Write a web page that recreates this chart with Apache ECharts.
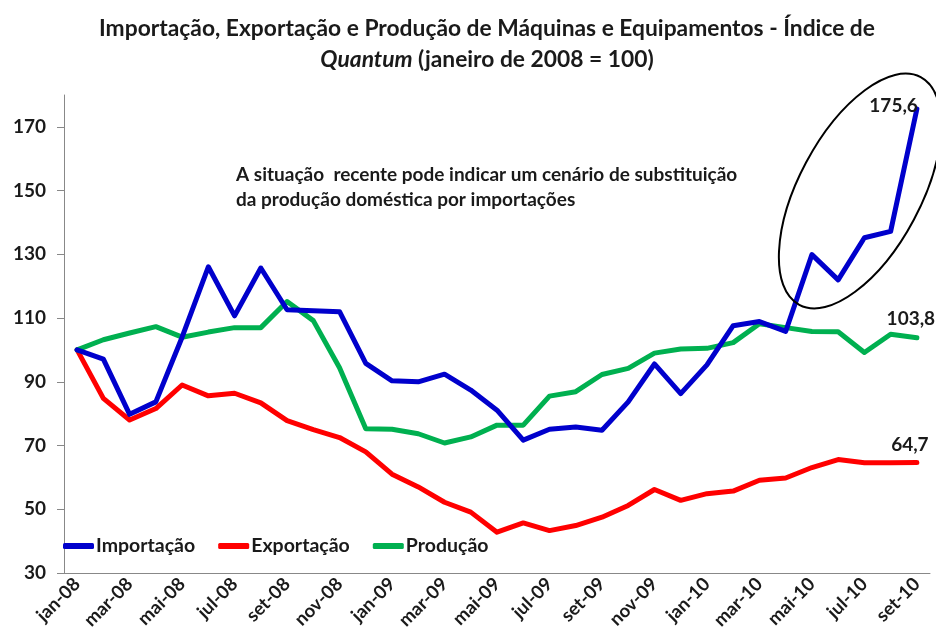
<!DOCTYPE html>
<html><head><meta charset="utf-8">
<script src="https://cdn.jsdelivr.net/npm/echarts@6/dist/echarts.min.js"></script>
<style>html,body{margin:0;padding:0;background:#fff}#c{width:936px;height:644px}</style>
</head><body><div id="c"></div>
<script>
const categories = ['jan-08','fev-08','mar-08','abr-08','mai-08','jun-08','jul-08','ago-08','set-08','out-08','nov-08','dez-08',
  'jan-09','fev-09','mar-09','abr-09','mai-09','jun-09','jul-09','ago-09','set-09','out-09','nov-09','dez-09',
  'jan-10','fev-10','mar-10','abr-10','mai-10','jun-10','jul-10','ago-10','set-10'];
const importacao = [100,97.1,79.8,83.7,104,126.1,110.7,125.7,112.6,112.3,112,95.8,
  90.3,90,92.4,87.4,81.1,71.7,75.1,75.8,74.8,83.7,95.6,86.3,
  95.3,107.6,108.9,105.8,129.9,122,135.2,137.2,175.6];
const exportacao = [100,84.8,78,81.6,89,85.6,86.4,83.4,77.8,75,72.5,68,
  61,57,52.2,49.1,42.8,45.7,43.3,44.9,47.5,51.2,56.2,52.8,
  54.9,55.7,59.1,59.8,63.1,65.6,64.6,64.6,64.7];
const producao = [100,103.2,105.3,107.3,104,105.6,107,107,115.2,109.2,94.4,75.3,
  75.1,73.7,70.8,72.7,76.4,76.4,85.5,86.9,92.3,94.2,99,100.3,
  100.5,102.3,108.2,107,105.8,105.7,99.2,104.9,103.8];
const yTicks = [30,50,70,90,110,130,150,170];
const seriesNames = ['Importação','Exportação','Produção'];
const colors = ['#0000CC','#FF0000','#00B050'];

const FONT = 'Lato';
const chart = echarts.init(document.getElementById('c'), null, {renderer:'canvas'});
const fmt = v => String(v).replace('.', ',');
function mk(name, data, color, endOff, align) {
  return {
    name, type:'line', data, showSymbol:false, symbol:'none',
    lineStyle:{color, width:5, cap:'round', join:'round'}, itemStyle:{color},
    z: name==='Importação'?3:2,
    endLabel:{show:true, formatter:p=>fmt(p.value), fontFamily:FONT, fontWeight:'bold', fontSize:19,
      color:'#1a1a1a', align:align, offset:endOff}
  };
}
chart.setOption({
  animation:false,
  textStyle:{fontFamily:FONT},
  title:{
    left:482, top:8,
    text:'{b|Importação, Exportação e Produção de Máquinas e Equipamentos - Índice de}\n{i|Quantum}{b| (janeiro de 2008 = 100)}',
    textAlign:'center',
    textStyle:{align:'center', rich:{
      b:{fontFamily:FONT, fontWeight:'bold', fontSize:22.8, color:'#1a1a1a', lineHeight:31, align:'center'},
      i:{fontFamily:FONT, fontWeight:'bold', fontStyle:'italic', fontSize:22.8, color:'#1a1a1a', lineHeight:31, align:'center'}
    }}
  },
  grid:{left:64, right:6, top:95, bottom:71, containLabel:false},
  legend:{
    left:58, top:531, itemWidth:31, itemHeight:6, itemGap:23, icon:'roundRect',
    data:seriesNames,
    textStyle:{fontFamily:FONT, fontWeight:'bold', fontSize:19.5, color:'#1a1a1a', padding:[0,0,0,-3]}
  },
  xAxis:{
    type:'category', data:categories, boundaryGap:true,
    axisLine:{lineStyle:{color:'#888', width:1}},
    axisTick:{interval:1, length:6, lineStyle:{color:'#888'}},
    axisLabel:{interval:1, rotate:45, fontFamily:FONT, fontWeight:'bold', fontSize:18.5, color:'#1a1a1a', margin:8}
  },
  yAxis:{
    type:'value', min:30, max:180,
    axisLine:{show:true, lineStyle:{color:'#888', width:1}},
    axisTick:{show:true, length:7, lineStyle:{color:'#888'}, customValues:yTicks},
    axisLabel:{fontFamily:FONT, fontWeight:'bold', fontSize:19, color:'#1a1a1a', margin:18, customValues:yTicks},
    splitLine:{show:false}
  },
  series:[
    mk('Importação', importacao, colors[0], [-7,-3], 'right'),
    mk('Exportação', exportacao, colors[1], [-15,-18], 'center'),
    mk('Produção', producao, colors[2], [-14,-19], 'center')
  ],
  graphic:[
    {type:'text', left:236, top:162, style:{
      text:'A situação  recente pode indicar um cenário de substituição\nda produção doméstica por importações',
      fontFamily:FONT, fontWeight:'bold', fontSize:19, lineHeight:25, fill:'#1a1a1a'}},
    {type:'ellipse', x:860, y:191, rotation:-0.49, shape:{cx:0, cy:0, rx:61, ry:129},
      style:{fill:'none', stroke:'#000', lineWidth:2}, z:10}
  ]
});
</script></body></html>
